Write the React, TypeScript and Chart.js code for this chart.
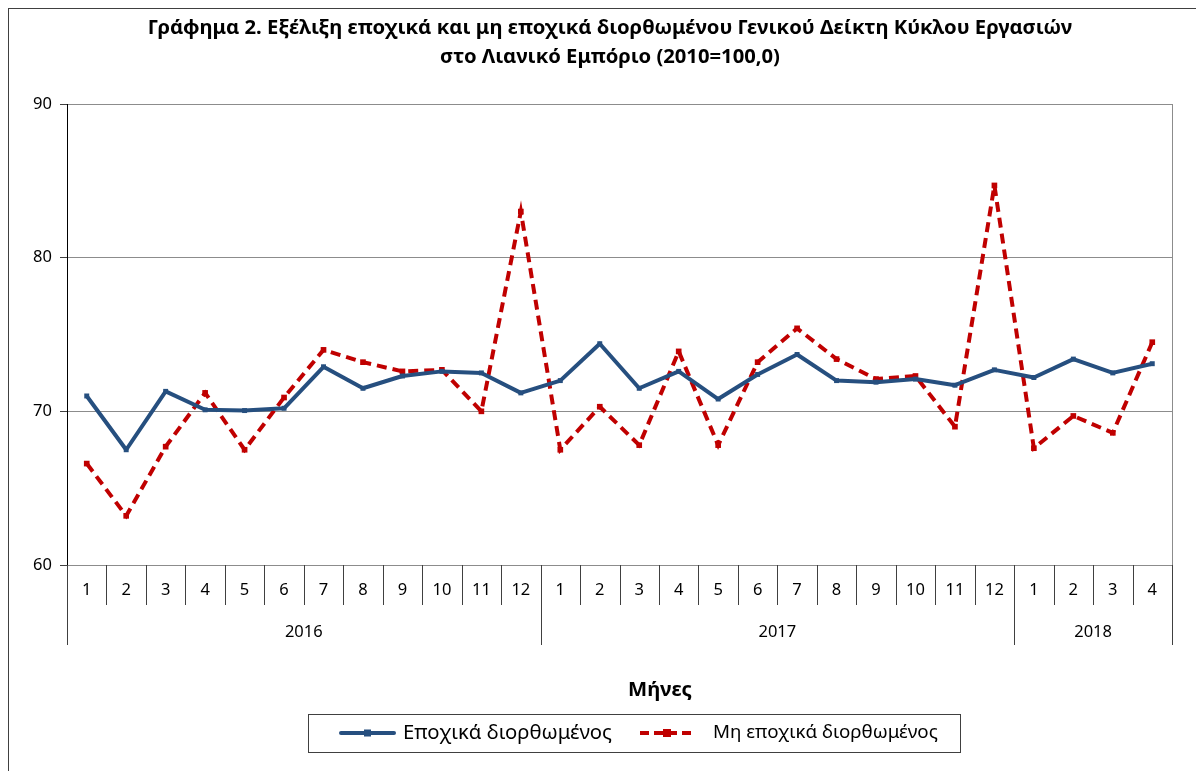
import React, { useEffect, useRef } from "react";
import { Chart, registerables } from "chart.js";

Chart.register(...registerables);

const monthLabels = ["1","2","3","4","5","6","7","8","9","10","11","12","1","2","3","4","5","6","7","8","9","10","11","12","1","2","3","4"];
const yearLabels = ["2016", "2017", "2018"];
const monthsPerYear = [12, 12, 4];
const seasonallyAdjusted = [71.0, 67.5, 71.3, 70.1, 70.05, 70.2, 72.9, 71.5, 72.3, 72.6, 72.5, 71.2, 72.0, 74.4, 71.5, 72.6, 70.8, 72.4, 73.7, 72.0, 71.9, 72.1, 71.7, 72.7, 72.2, 73.4, 72.5, 73.1];
const notAdjusted = [66.6, 63.2, 67.7, 71.2, 67.5, 70.9, 74.0, 73.2, 72.6, 72.7, 70.0, 83.0, 67.5, 70.3, 67.8, 73.9, 67.8, 73.2, 75.4, 73.4, 72.1, 72.3, 69.0, 84.7, 67.6, 69.7, 68.6, 74.5];
const yMin = 60;
const yMax = 90;
const yStep = 10;

const titleLines = [
  "Γράφημα 2. Εξέλιξη εποχικά και μη εποχικά διορθωμένου Γενικού Δείκτη Κύκλου Εργασιών",
  "στο Λιανικό Εμπόριο (2010=100,0)",
];
const axisTitle = "Μήνες";
const seriesNames = ["Εποχικά διορθωμένος", "Μη εποχικά διορθωμένος"];

const FAMILY = '"Noto Sans", "DejaVu Sans", sans-serif';
const BLUE = "#264F7F";
const RED = "#C00000";

function fitFont(ctx: CanvasRenderingContext2D, text: string, weight: string, target: number) {
  ctx.font = `${weight} 20px ${FAMILY}`;
  const w = ctx.measureText(text).width;
  const size = (20 * target) / w;
  ctx.font = `${weight} ${size}px ${FAMILY}`;
}

const decorPlugin = {
  id: "decor",
  afterDraw(chart: any) {
    const ctx: CanvasRenderingContext2D = chart.ctx;
    const area = chart.chartArea;
    const xs = chart.scales.x;
    const n = monthLabels.length;
    const step = (area.right - area.left) / n;
    ctx.save();

    // plot right border
    ctx.strokeStyle = "#8c8c8c";
    ctx.lineWidth = 1;
    ctx.beginPath();
    ctx.moveTo(Math.round(area.right) + 0.5, area.top);
    ctx.lineTo(Math.round(area.right) + 0.5, area.bottom);
    ctx.stroke();

    // category separators
    const yearBounds = new Set<number>();
    let acc = 0;
    yearBounds.add(0);
    monthsPerYear.forEach((c) => { acc += c; yearBounds.add(acc); });
    ctx.strokeStyle = "#404040";
    for (let i = 0; i <= n; i++) {
      const x = Math.round(area.left + i * step) + 0.5;
      const len = yearBounds.has(i) ? 80 : 40;
      ctx.beginPath();
      ctx.moveTo(x, area.bottom);
      ctx.lineTo(x, area.bottom + len);
      ctx.stroke();
    }

    // month labels
    ctx.fillStyle = "#000";
    ctx.font = `16.5px ${FAMILY}`;
    ctx.textAlign = "center";
    ctx.textBaseline = "middle";
    monthLabels.forEach((m, i) => {
      ctx.fillText(m, xs.getPixelForValue(i), area.bottom + 25);
    });
    // year labels
    let start = 0;
    yearLabels.forEach((y, k) => {
      const end = start + monthsPerYear[k];
      const cx = area.left + ((start + end) / 2) * step;
      ctx.fillText(y, cx, area.bottom + 67);
      start = end;
    });

    // titles
    fitFont(ctx, titleLines[0], "bold", 925);
    ctx.fillText(titleLines[0], 601, 19);
    fitFont(ctx, titleLines[1], "bold", 340);
    ctx.fillText(titleLines[1], 601, 48);

    // axis title
    fitFont(ctx, axisTitle, "bold", 64);
    ctx.fillText(axisTitle, 651, 681);

    // legend
    ctx.strokeStyle = "#404040";
    ctx.lineWidth = 1;
    ctx.strokeRect(299.5, 705.5, 652, 38);
    const ly = 724;
    ctx.strokeStyle = BLUE;
    ctx.lineWidth = 4;
    ctx.lineCap = "round";
    ctx.beginPath();
    ctx.moveTo(332, ly);
    ctx.lineTo(385, ly);
    ctx.stroke();
    ctx.fillStyle = BLUE;
    ctx.fillRect(355, ly - 3.5, 7, 7);
    ctx.strokeStyle = RED;
    ctx.lineCap = "butt";
    ctx.setLineDash([9, 5]);
    ctx.beginPath();
    ctx.moveTo(631, ly);
    ctx.lineTo(686, ly);
    ctx.stroke();
    ctx.setLineDash([]);
    ctx.fillStyle = RED;
    ctx.fillRect(654, ly - 4, 8, 8);

    ctx.fillStyle = "#000";
    ctx.textAlign = "left";
    fitFont(ctx, seriesNames[0], "normal", 209);
    ctx.fillText(seriesNames[0], 394, ly);
    fitFont(ctx, seriesNames[1], "normal", 225);
    ctx.fillText(seriesNames[1], 704, ly);

    ctx.restore();
  },
};

export default function App() {
  const ref = useRef<HTMLCanvasElement | null>(null);
  useEffect(() => {
    if (!ref.current) return;
    const chart = new Chart(ref.current, {
      type: "line",
      data: {
        labels: monthLabels,
        datasets: [
          {
            label: seriesNames[0],
            data: seasonallyAdjusted,
            borderColor: BLUE,
            backgroundColor: BLUE,
            borderWidth: 4,
            borderJoinStyle: "round",
            pointStyle: "rect",
            pointRadius: 3.5,
            pointBorderWidth: 0,
            pointBackgroundColor: BLUE,
            tension: 0,
          },
          {
            label: seriesNames[1],
            data: notAdjusted,
            borderColor: RED,
            backgroundColor: RED,
            borderWidth: 4,
            borderDash: [10, 6],
            pointStyle: "rect",
            pointRadius: 4,
            pointBorderWidth: 0,
            pointBackgroundColor: RED,
            tension: 0,
          },
        ],
      },
      options: {
        responsive: false,
        animation: false,
        layout: { padding: { top: 95, right: 32, left: 0, bottom: 0 } },
        plugins: {
          legend: { display: false },
          title: { display: false },
          tooltip: { enabled: false },
        },
        scales: {
          x: {
            type: "category",
            offset: true,
            grid: { display: false },
            ticks: { display: false },
            border: { display: false },
            afterFit: (s: any) => { s.height = 206; },
          },
          y: {
            min: yMin,
            max: yMax,
            ticks: {
              stepSize: yStep,
              color: "#000",
              font: { family: FAMILY, size: 16.5 },
              padding: 8,
            },
            grid: { color: "#8c8c8c", lineWidth: 1, tickLength: 7, tickColor: "#404040" },
            border: { color: "#000", width: 1 },
            afterFit: (s: any) => { s.width = 58; },
          },
        },
      } as any,
      plugins: [decorPlugin],
    });
    return () => chart.destroy();
  }, []);

  return (
    <div style={{ borderLeft: "1px solid #404040", borderTop: "1px solid #404040", width: 1195, height: 762, overflow: "hidden" }}>
      <canvas ref={ref} width={1195} height={762} style={{ display: "block" }} />
    </div>
  );
}
